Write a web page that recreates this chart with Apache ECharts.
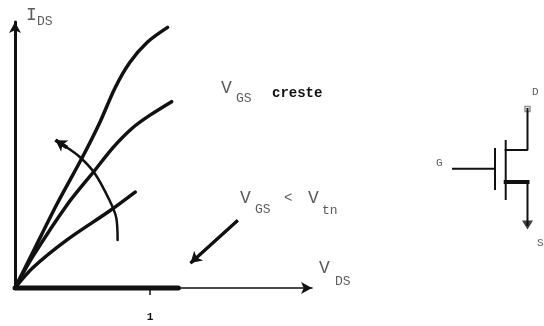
<!DOCTYPE html>
<html>
<head>
<meta charset="utf-8">
<style>
  html, body { margin: 0; padding: 0; background: #fff; }
  #chart { width: 544px; height: 326px; filter: blur(0.4px); }
</style>
<script src="https://cdn.jsdelivr.net/npm/echarts@6/dist/echarts.min.js"></script>
</head>
<body>
<div id="chart"></div>
<script>
// curves (VDS in x, IDS in y)
const curveHighX = [0, 0.13, 0.31, 0.5, 0.63, 0.74, 0.85, 0.98, 1.13]
const curveHighY = [0, 0.26, 0.62, 0.97, 1.23, 1.48, 1.67, 1.82, 1.93]
const curveMidX = [0, 0.13, 0.385, 0.59, 0.726, 0.87, 1.0, 1.16]
const curveMidY = [0, 0.23, 0.615, 0.87, 1.04, 1.185, 1.28, 1.38]
const curveLowX = [0, 0.13, 0.385, 0.7, 0.89]
const curveLowY = [0, 0.148, 0.356, 0.57, 0.71]
const cutoffX = [0, 1.21]
const cutoffY = [0, 0]
// arrows
const sweepX = [0.76, 0.75, 0.7, 0.59, 0.48, 0.385]
const sweepY = [0.356, 0.52, 0.65, 0.85, 0.97, 1.04]
const sweepHeadX = [0.385, 0.3]
const sweepHeadY = [1.04, 1.095]
const belowX = [1.65, 1.3]
const belowY = [0.5, 0.185]
const xTicks = [1]

// symbol on the right
const gateWire = [[33, 98.7], [75, 98.7]]
const gatePlate = [[75, 79], [75, 119]]
const channel = [[85.7, 71], [85.7, 129]]
const drain = [[85.7, 80], [107.5, 80], [107.5, 39]]
const sourceBar = [[85.7, 112], [107.5, 112]]
const sourceWire = [[107.5, 112], [107.5, 155]]

const black = '#111'
const grey = '#5c5c5c'

function pairs(xs, ys) {
  return xs.map((x, i) => [x, ys[i]])
}

function curve(xs, ys, width) {
  return {
    type: 'line', data: pairs(xs, ys), smooth: 0.3, showSymbol: false, clip: false, silent: true,
    lineStyle: { color: black, width: width, cap: 'round' }
  }
}

function arrow(xs, ys, width, size) {
  return {
    type: 'line', data: pairs(xs, ys), showSymbol: false, clip: false, silent: true,
    lineStyle: { color: black, width: width },
    markLine: {
      silent: true, animation: false, symbol: ['none', 'arrow'], symbolSize: size, label: { show: false },
      lineStyle: { color: black, width: width, type: 'solid' },
      data: [[{ coord: [xs[0], ys[0]] }, { coord: [xs[xs.length - 1], ys[ys.length - 1]] }]]
    }
  }
}

function wire(points, width) {
  return {
    type: 'line', xAxisIndex: 1, yAxisIndex: 1, data: points, showSymbol: false, silent: true,
    lineStyle: { color: black, width: width, cap: 'square' }
  }
}

function text(x, y, str, size, color, weight) {
  return {
    type: 'text', x: x, y: y,
    style: {
      text: str, fill: color || grey, fontSize: size,
      fontFamily: 'Liberation Mono', fontWeight: weight || 'normal',
      verticalAlign: 'middle'
    }
  }
}

const option = {
  animation: false,
  backgroundColor: '#fff',
  grid: [
    { left: 15, top: 22, width: 297, height: 266 },
    { left: 420, top: 70, width: 124, height: 190 }
  ],
  xAxis: [
    {
      type: 'value', min: 0, max: 2.2, splitLine: { show: false },
      axisLine: { onZero: false, symbol: ['none', 'arrow'], symbolSize: [9, 11], lineStyle: { color: black, width: 1.5 } },
      axisTick: { show: true, customValues: xTicks, length: 7, lineStyle: { color: black, width: 1.5 } },
      axisLabel: {
        customValues: xTicks, margin: 24, color: black, fontSize: 11,
        fontFamily: 'Liberation Mono', fontWeight: 'bold'
      }
    },
    { type: 'value', gridIndex: 1, min: 0, max: 124, show: false }
  ],
  yAxis: [
    {
      type: 'value', min: 0, max: 1.97, splitLine: { show: false },
      axisLine: { onZero: false, symbol: ['none', 'arrow'], symbolSize: [9, 11], lineStyle: { color: black, width: 3 } },
      axisTick: { show: false },
      axisLabel: { show: false }
    },
    { type: 'value', gridIndex: 1, min: 0, max: 190, inverse: true, show: false }
  ],
  series: [
    curve(curveHighX, curveHighY, 3.5),
    curve(curveMidX, curveMidY, 3.5),
    curve(curveLowX, curveLowY, 3.5),
    curve(cutoffX, cutoffY, 5),
    curve(sweepX, sweepY, 2.5),
    arrow(sweepHeadX, sweepHeadY, 3.5, [10, 11]),
    arrow(belowX, belowY, 3, [10, 11]),
    wire(gateWire, 2),
    wire(gatePlate, 2),
    wire(channel, 2),
    wire(drain, 2),
    wire(sourceBar, 4),
    wire(sourceWire, 2),
    {
      type: 'scatter', xAxisIndex: 1, yAxisIndex: 1, silent: true,
      data: [drain[2]], symbol: 'rect', symbolSize: 5,
      itemStyle: { color: '#fff', borderColor: '#777', borderWidth: 1.5 }
    },
    {
      type: 'scatter', xAxisIndex: 1, yAxisIndex: 1, silent: true,
      data: [sourceWire[1]], symbol: 'triangle', symbolSize: [11, 9], symbolRotate: 180,
      itemStyle: { color: black }
    }
  ],
  graphic: [
    text(26, 15, 'I', 18), text(37, 22, 'DS', 13),
    text(221, 88, 'V', 18), text(236, 99, 'GS', 13),
    text(272, 93, 'creste', 14, black, 'bold'),
    text(240, 198, 'V', 18), text(255, 210, 'GS', 13),
    text(284, 198, '<', 14),
    text(308, 198, 'V', 18), text(322, 211, 'tn', 13),
    text(319, 268, 'V', 18), text(335, 282, 'DS', 13),
    text(436, 163, 'G', 11), text(532, 92, 'D', 11), text(537, 243, 'S', 11)
  ]
}

const chart = echarts.init(document.getElementById('chart'), null, { renderer: 'canvas' })
chart.setOption(option)
</script>
</body>
</html>
